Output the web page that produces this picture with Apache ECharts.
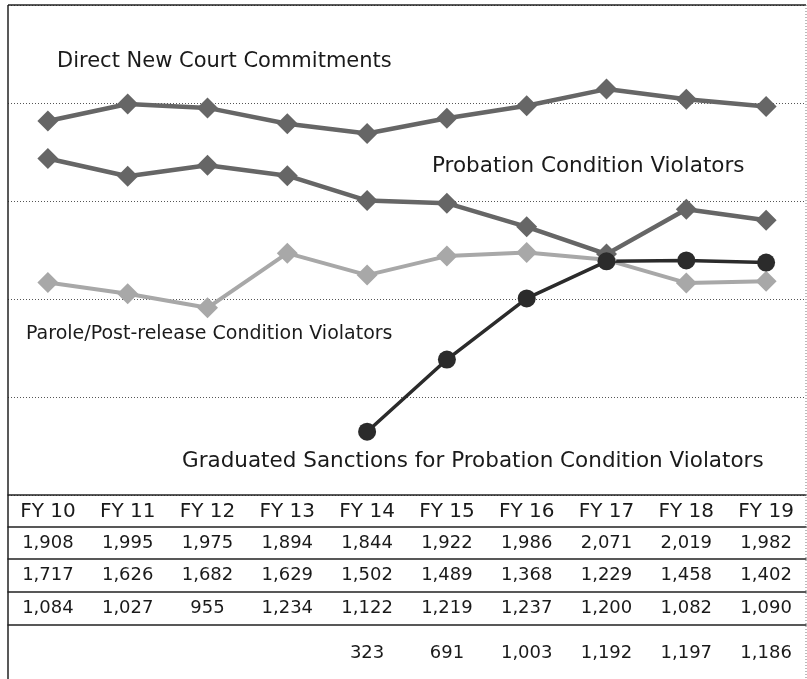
<!DOCTYPE html>
<html>
<head>
<meta charset="utf-8">
<script src="https://cdn.jsdelivr.net/npm/echarts@6/dist/echarts.min.js"></script>
<style>
  html, body { margin: 0; padding: 0; background: #fff; }
  #chart { width: 807px; height: 679px; }
</style>
</head>
<body>
<div id="chart"></div>
<script>
const years = ["FY 10", "FY 11", "FY 12", "FY 13", "FY 14", "FY 15", "FY 16", "FY 17", "FY 18", "FY 19"];
const directCommitments = [1908, 1995, 1975, 1894, 1844, 1922, 1986, 2071, 2019, 1982];
const probationViolators = [1717, 1626, 1682, 1629, 1502, 1489, 1368, 1229, 1458, 1402];
const paroleViolators = [1084, 1027, 955, 1234, 1122, 1219, 1237, 1200, 1082, 1090];
const graduatedSanctions = [null, null, null, null, 323, 691, 1003, 1192, 1197, 1186];

const FONT = "DejaVu Sans";
const fmt = v => (typeof v === "number" ? v.toLocaleString("en-US") : (v == null ? "" : v));

// each table row is an extra category axis under the plot
function tableAxis(values, offset, margin, size) {
  return {
    type: "category",
    gridIndex: 0,
    position: "bottom",
    offset: offset,
    boundaryGap: true,
    data: values.map(fmt),
    axisLine: { show: true, lineStyle: { color: "#222", width: 1.5 } },
    axisTick: { show: false },
    axisLabel: { interval: 0, margin: margin, color: "#1a1a1a", fontFamily: FONT, fontSize: size },
    splitLine: { show: false }
  };
}

function lineSeries(name, data, color, width, symbol, size) {
  return {
    name: name,
    type: "line",
    data: data,
    xAxisIndex: 0,
    symbol: symbol,
    symbolSize: size,
    showAllSymbol: true,
    connectNulls: false,
    lineStyle: { color: color, width: width },
    itemStyle: { color: color, borderWidth: 0 },
    emphasis: { disabled: true }
  };
}

function label(text, x, y, size) {
  return {
    type: "text",
    x: x,
    y: y,
    style: { text: text, font: size + 'px "DejaVu Sans"', fill: "#1a1a1a", verticalAlign: "middle" },
    z: 10
  };
}

const myChart = echarts.init(document.getElementById("chart"));
const option = {
  backgroundColor: "#fff",
  animation: false,
  grid: { left: 8, right: 1, top: 5, bottom: 184, containLabel: false },
  xAxis: [
    tableAxis(years, 0, 7, 20),
    tableAxis(directCommitments, 32, 7, 18),
    tableAxis(probationViolators, 64, 7, 18),
    tableAxis(paroleViolators, 97, 7, 18),
    tableAxis(graduatedSanctions, 130, 19, 18)
  ],
  yAxis: {
    type: "value",
    min: 0,
    max: 2500,
    interval: 500,
    axisLine: { show: false },
    axisTick: { show: false },
    axisLabel: { show: false },
    splitLine: { lineStyle: { color: "#555", type: [1, 2], width: 1 } }
  },
  series: [
    lineSeries("Parole/Post-release Condition Violators", paroleViolators, "#a8a8a8", 4, "diamond", 21),
    lineSeries("Probation Condition Violators", probationViolators, "#666", 4.5, "diamond", 21),
    lineSeries("Direct New Court Commitments", directCommitments, "#666", 4.5, "diamond", 21),
    lineSeries("Graduated Sanctions for Probation Condition Violators", graduatedSanctions, "#2b2b2b", 3.5, "circle", 18)
  ],
  graphic: [
    { type: "line", shape: { x1: 8, y1: 5, x2: 806, y2: 5 }, style: { stroke: "#222", lineWidth: 1.5 }, z: 10 },
    { type: "line", shape: { x1: 8, y1: 5, x2: 8, y2: 679 }, style: { stroke: "#222", lineWidth: 1.5 }, z: 10 },
    { type: "line", shape: { x1: 806, y1: 5, x2: 806, y2: 679 }, style: { stroke: "#777", lineWidth: 1, lineDash: [1, 2] }, z: 10 },
    label("Direct New Court Commitments", 57, 62, 21),
    label("Probation Condition Violators", 432, 166, 21.5),
    label("Parole/Post-release Condition Violators", 26, 334, 19),
    label("Graduated Sanctions for Probation Condition Violators", 182, 461, 21.5)
  ]
};
myChart.setOption(option);
window.addEventListener("resize", () => myChart.resize(), false);
</script>
</body>
</html>
